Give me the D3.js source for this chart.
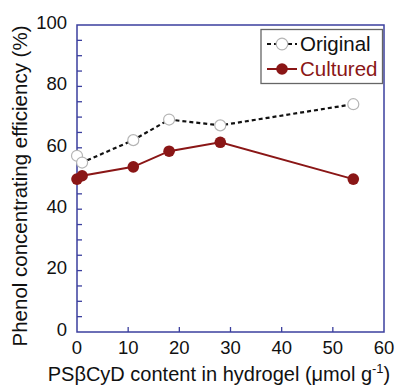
<!DOCTYPE html>
<html>
<head>
<meta charset="utf-8">
<script src="https://cdn.jsdelivr.net/npm/d3@7/dist/d3.min.js"></script>
<style>
  html, body { margin: 0; padding: 0; background: #fff; }
  svg { display: block; font-family: "Liberation Sans", Arial, Helvetica, sans-serif; }
</style>
</head>
<body>
<svg id="chart" width="398" height="387"></svg>
<script>
// PSβCyD content (µmol g⁻¹) and phenol concentrating efficiency (%)
const contentOriginal = [0, 1, 11, 18, 28, 54];
const efficiencyOriginal = [57.4, 55.2, 62.5, 69.2, 67.3, 74.2];
const contentCultured = [0, 1, 11, 18, 28, 54];
const efficiencyCultured = [49.8, 50.9, 53.8, 58.9, 61.8, 49.8];
const seriesNames = ["Original", "Cultured"];
const xTicks = [0, 10, 20, 30, 40, 50, 60];
const yTicks = [0, 20, 40, 60, 80, 100];
const yMinorTicks = d3.range(0, 101, 5);

const axisColor = "#3b3f9e";
const red = "#8a1616";

const svg = d3.select("#chart");
const plot = { left: 77, top: 25, right: 384, bottom: 332 };

const x = d3.scaleLinear().domain([0, 60]).range([plot.left, plot.right]);
const y = d3.scaleLinear().domain([0, 100]).range([plot.bottom, plot.top]);

// frame
svg.append("rect")
  .attr("x", plot.left).attr("y", plot.top)
  .attr("width", plot.right - plot.left).attr("height", plot.bottom - plot.top)
  .attr("fill", "none").attr("stroke", axisColor).attr("stroke-width", 1.5);

// inward ticks
svg.append("g").selectAll("line").data(yMinorTicks.filter(d => d > 0 && d < 100)).join("line")
  .attr("x1", plot.left).attr("x2", plot.left + 5)
  .attr("y1", d => y(d)).attr("y2", d => y(d))
  .attr("stroke", axisColor).attr("stroke-width", 1.3);
svg.append("g").selectAll("line").data(xTicks.filter(d => d > 0 && d < 60)).join("line")
  .attr("x1", d => x(d)).attr("x2", d => x(d))
  .attr("y1", plot.bottom).attr("y2", plot.bottom - 5)
  .attr("stroke", axisColor).attr("stroke-width", 1.3);

// tick labels
svg.append("g").selectAll("text").data(yTicks).join("text")
  .attr("x", plot.left - 10).attr("y", d => y(d)).attr("dy", "0.2em")
  .attr("text-anchor", "end").attr("font-size", 18.5).attr("fill", "#111")
  .text(d => d);
svg.append("g").selectAll("text").data(xTicks).join("text")
  .attr("x", d => x(d)).attr("y", 354)
  .attr("text-anchor", "middle").attr("font-size", 18.5).attr("fill", "#111")
  .text(d => d);

// axis titles
const xt = svg.append("text")
  .attr("x", 219).attr("y", 381)
  .attr("text-anchor", "middle").attr("font-size", 20).attr("fill", "#111");
xt.append("tspan").text("PSβCyD content in hydrogel (μmol g");
xt.append("tspan").attr("dy", -8).attr("font-size", 13).text("-1");
xt.append("tspan").attr("dy", 8).text(")");

svg.append("text")
  .attr("transform", "translate(27,186) rotate(-90)")
  .attr("text-anchor", "middle").attr("font-size", 20.5).attr("fill", "#111")
  .text("Phenol concentrating efficiency (%)");

const line = d3.line().x(d => x(d[0])).y(d => y(d[1]));
const orig = contentOriginal.map((c, i) => [c, efficiencyOriginal[i]]);
const cult = contentCultured.map((c, i) => [c, efficiencyCultured[i]]);

// Original series
svg.append("path").datum(orig).attr("d", line)
  .attr("fill", "none").attr("stroke", "#111").attr("stroke-width", 2.2)
  .attr("stroke-dasharray", "4,3");
svg.append("g").selectAll("circle").data(orig).join("circle")
  .attr("cx", d => x(d[0])).attr("cy", d => y(d[1])).attr("r", 5.5)
  .attr("fill", "#fff").attr("stroke", "#b5b5b5").attr("stroke-width", 1.2);

// Cultured series
svg.append("path").datum(cult).attr("d", line)
  .attr("fill", "none").attr("stroke", red).attr("stroke-width", 2);
svg.append("g").selectAll("circle").data(cult).join("circle")
  .attr("cx", d => x(d[0])).attr("cy", d => y(d[1])).attr("r", 5.8)
  .attr("fill", red);

// legend
const lg = svg.append("g");
lg.append("rect").attr("x", 261).attr("y", 29.5).attr("width", 121.5).attr("height", 54)
  .attr("fill", "#fff").attr("stroke", "#666").attr("stroke-width", 1.3);
const rows = [
  { name: seriesNames[0], y: 44, dash: "4,3", color: "#111", textColor: "#111", fill: "#fff", stroke: "#b5b5b5" },
  { name: seriesNames[1], y: 69, dash: null, color: red, textColor: red, fill: red, stroke: "none" }
];
rows.forEach(r => {
  lg.append("line").attr("x1", 267).attr("x2", 297).attr("y1", r.y).attr("y2", r.y)
    .attr("stroke", r.color).attr("stroke-width", 2).attr("stroke-dasharray", r.dash);
  lg.append("circle").attr("cx", 282).attr("cy", r.y).attr("r", 5.8)
    .attr("fill", r.fill).attr("stroke", r.stroke).attr("stroke-width", 1.2);
  lg.append("text").attr("x", 300).attr("y", r.y + 6.5)
    .attr("font-size", 20.5).attr("fill", r.textColor).text(r.name);
});
</script>
</body>
</html>
